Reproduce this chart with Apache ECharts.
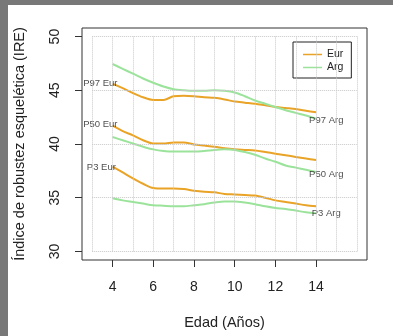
<!DOCTYPE html>
<html>
<head>
<meta charset="utf-8">
<script src="https://cdn.jsdelivr.net/npm/echarts@6/dist/echarts.min.js"></script>
<style>
  html, body { margin: 0; padding: 0; background: #fff; }
  #main { width: 393px; height: 336px; }
</style>
</head>
<body>
<div id="main"></div>
<script>
var edad = [4, 4.5, 5, 5.5, 6, 6.5, 7, 7.5, 8, 8.5, 9, 9.5, 10, 10.5, 11, 11.5, 12, 12.5, 13, 13.5, 14];

var p97Eur = [45.6, 45.2, 44.75, 44.35, 44.1, 44.1, 44.45, 44.5, 44.45, 44.35, 44.3, 44.15, 43.95, 43.85, 43.75, 43.6, 43.45, 43.35, 43.25, 43.1, 42.95];
var p50Eur = [41.7, 41.2, 40.8, 40.35, 40.05, 40.05, 40.15, 40.15, 39.95, 39.85, 39.75, 39.6, 39.5, 39.45, 39.4, 39.25, 39.1, 38.95, 38.8, 38.65, 38.5];
var p3Eur  = [37.9, 37.35, 36.8, 36.3, 35.9, 35.85, 35.85, 35.8, 35.65, 35.55, 35.5, 35.35, 35.3, 35.25, 35.2, 35.0, 34.75, 34.6, 34.45, 34.3, 34.2];

var p97Arg = [47.45, 47.0, 46.55, 46.1, 45.7, 45.35, 45.1, 45.0, 44.95, 44.95, 45.0, 44.95, 44.8, 44.45, 44.05, 43.75, 43.45, 43.15, 42.9, 42.65, 42.35];
var p50Arg = [40.65, 40.35, 40.05, 39.75, 39.5, 39.35, 39.3, 39.3, 39.3, 39.35, 39.45, 39.5, 39.45, 39.25, 39.0, 38.65, 38.35, 38.0, 37.8, 37.6, 37.4];
var p3Arg  = [34.95, 34.75, 34.6, 34.45, 34.3, 34.25, 34.2, 34.2, 34.3, 34.4, 34.55, 34.65, 34.65, 34.55, 34.4, 34.2, 34.05, 33.95, 33.8, 33.65, 33.55];

// etiquetas de las curvas [edad, valor, texto]
var etiquetas = [
  [3.4, 45.65, 'P97 Eur'],
  [3.4, 41.8, 'P50 Eur'],
  [3.45, 37.85, 'P3 Eur'],
  [14.5, 42.2, 'P97 Arg'],
  [14.5, 37.2, 'P50 Arg'],
  [14.5, 33.5, 'P3 Arg']
];

var xTicks = [4, 6, 8, 10, 12, 14];
var yTicks = [30, 35, 40, 45, 50];
var xGrid = [3, 4, 5, 6, 7, 8, 9, 10, 11, 12, 13, 14, 15, 16];
var yGrid = [30, 35, 40, 45, 50];

var colEur = '#E9A326';
var colArg = '#9BE39B';

function pares(vals) {
  return edad.map(function (e, i) { return [e, vals[i]]; });
}

var gridLines = [];
xGrid.forEach(function (x) {
  gridLines.push([{ coord: [x, 30] }, { coord: [x, 50] }]);
});
yGrid.forEach(function (y) {
  gridLines.push([{ coord: [3, y] }, { coord: [16, y] }]);
});

function curva(nombre, vals, color) {
  return {
    name: nombre,
    type: 'line',
    data: pares(vals),
    smooth: 0.3,
    showSymbol: false,
    z: 3,
    lineStyle: { color: color, width: 2 },
    itemStyle: { color: color }
  };
}

var myChart = echarts.init(document.getElementById('main'));

myChart.setOption({
  animation: false,
  backgroundColor: '#fff',
  textStyle: { fontFamily: 'Liberation Sans, Arial, sans-serif' },
  graphic: [
    { type: 'rect', left: 0, top: 0, shape: { width: 393, height: 5 }, style: { fill: '#787878' }, z: 100 },
    { type: 'rect', left: 0, top: 0, shape: { width: 8, height: 336 }, style: { fill: '#787878' }, z: 100 }
  ],
  grid: {
    left: 82, top: 28, width: 285, height: 232,
    show: true, borderColor: '#333', borderWidth: 1, backgroundColor: 'transparent'
  },
  legend: {
    data: ['Eur', 'Arg'],
    orient: 'vertical',
    left: 293, top: 42,
    padding: [7, 8, 5, 10],
    itemGap: 2,
    itemWidth: 19, itemHeight: 1.5,
    icon: 'rect',
    borderColor: '#222', borderWidth: 1,
    backgroundColor: '#fff',
    textStyle: { fontSize: 10.5, color: '#222' }
  },
  xAxis: {
    type: 'value', min: 2.5, max: 16.5,
    name: 'Edad (Años)', nameLocation: 'middle', nameGap: 55,
    nameTextStyle: { fontSize: 14.5, color: '#222' },
    axisLine: { show: false },
    splitLine: { show: false },
    axisTick: { show: true, inside: false, length: 7, customValues: xTicks, lineStyle: { color: '#333' } },
    axisLabel: { customValues: xTicks, margin: 20, fontSize: 14, color: '#222' }
  },
  yAxis: {
    type: 'value', min: 29.2, max: 50.8,
    name: 'Índice de robustez esquelética (IRE)', nameLocation: 'middle', nameGap: 55,
    nameTextStyle: { fontSize: 14.5, color: '#222' },
    axisLine: { show: false },
    splitLine: { show: false },
    axisTick: { show: true, inside: false, length: 7, customValues: yTicks, lineStyle: { color: '#333' } },
    axisLabel: { customValues: yTicks, margin: 20, fontSize: 14, color: '#222', rotate: 90 }
  },
  series: [
    {
      type: 'line', data: [], z: 1, silent: true,
      markLine: {
        silent: true, symbol: 'none', label: { show: false },
        lineStyle: { color: '#c8c8c8', type: 'dotted', width: 1 },
        data: gridLines
      }
    },
    curva('Eur', p97Eur, colEur),
    curva('Eur', p50Eur, colEur),
    curva('Eur', p3Eur, colEur),
    curva('Arg', p97Arg, colArg),
    curva('Arg', p50Arg, colArg),
    curva('Arg', p3Arg, colArg),
    {
      type: 'scatter', data: etiquetas, symbolSize: 0, z: 4, silent: true,
      label: {
        show: true, position: 'inside', fontSize: 9.5, color: '#222',
        formatter: function (p) { return p.data[2]; }
      }
    }
  ]
});
</script>
</body>
</html>
